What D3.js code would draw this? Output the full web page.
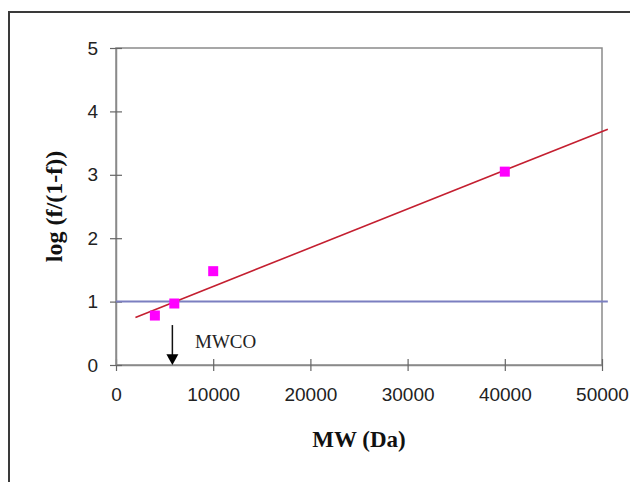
<!DOCTYPE html>
<html lang="en">
<head>
	<meta charset="UTF-8">
	<title>MWCO</title>
	<script src="https://cdn.jsdelivr.net/npm/d3@7"></script>
	<style>
		html,body{margin:0;padding:0;background:#fff;}
		svg{display:block;}
		.tick text{font-family:"Liberation Sans",Arial,sans-serif;font-size:19px;fill:#222;}
		.title{font-family:"Liberation Serif","Times New Roman",serif;font-weight:bold;fill:#111;}
	</style>
</head>
<body>
	<svg id="svg" width="630" height="482"></svg>
	<script>
		// measured points
		var mw = [4000, 6000, 10000, 40000],
			logf = [0.78, 0.97, 1.48, 3.05];
		// trend line ends
		var trendX = [2000, 50600],
			trendY = [0.75, 3.72];
		var cutoffY = 1,
			mwco = 5800;
		var xTicks = [0, 10000, 20000, 30000, 40000, 50000],
			yTicks = [0, 1, 2, 3, 4, 5];

		var svg = d3.select("svg"),
			padL = 116, padR = 602, padT = 48, padB = 365;

		var x = d3.scaleLinear().domain([0, 50000]).range([padL, padR]),
			y = d3.scaleLinear().domain([0, 5]).range([padB, padT]);

		// outer frame, runs off the right and bottom
		svg.append("rect")
			.attr("x", 9).attr("y", 12)
			.attr("width", 640).attr("height", 490)
			.attr("fill", "none").attr("stroke", "#3a3a3a").attr("stroke-width", 2);

		// plot box
		svg.append("rect")
			.attr("x", padL).attr("y", padT)
			.attr("width", padR - padL).attr("height", padB - padT)
			.attr("fill", "none").attr("stroke", "#8a8a8a").attr("stroke-width", 1.5);

		var xAxis = svg.append("g")
			.attr("transform", "translate(0," + padB + ")")
			.call(d3.axisBottom(x).tickValues(xTicks).tickFormat(d3.format("d")).tickSizeInner(6).tickSizeOuter(0).tickPadding(17));
		var yAxis = svg.append("g")
			.attr("transform", "translate(" + padL + ",0)")
			.call(d3.axisLeft(y).tickValues(yTicks).tickFormat(d3.format("d")).tickSizeInner(6).tickSizeOuter(0).tickPadding(12));

		[xAxis, yAxis].forEach(function(a){
			a.select(".domain").attr("stroke", "#8a8a8a").attr("stroke-width", 1.5);
			a.selectAll(".tick line").attr("stroke", "#666").attr("stroke-width", 1.2);
		});
		// ticks cross the axis
		xAxis.selectAll(".tick line").attr("y1", -6);
		yAxis.selectAll(".tick line").attr("x1", 6);

		// cutoff line
		svg.append("line")
			.attr("x1", x(0)).attr("x2", x(50600))
			.attr("y1", y(cutoffY)).attr("y2", y(cutoffY))
			.attr("stroke", "#7b7fc0").attr("stroke-width", 2);

		// trend line
		svg.append("line")
			.attr("x1", x(trendX[0])).attr("y1", y(trendY[0]))
			.attr("x2", x(trendX[1])).attr("y2", y(trendY[1]))
			.attr("stroke", "#c41f30").attr("stroke-width", 1.6);

		// points
		svg.selectAll("rect.pt")
			.data(d3.range(mw.length))
			.enter().append("rect")
			.attr("class", "pt")
			.attr("x", function(i){ return x(mw[i]) - 5; })
			.attr("y", function(i){ return y(logf[i]) - 5; })
			.attr("width", 10).attr("height", 10)
			.attr("fill", "#ff00ff");

		// MWCO arrow
		svg.append("line")
			.attr("x1", x(mwco)).attr("x2", x(mwco))
			.attr("y1", y(0.63)).attr("y2", y(0.12))
			.attr("stroke", "#111").attr("stroke-width", 1.5);
		svg.append("path")
			.attr("d", "M" + (x(mwco) - 6) + "," + y(0.17) + "L" + (x(mwco) + 6) + "," + y(0.17) + "L" + x(mwco) + "," + y(0) + "Z")
			.attr("fill", "#000");

		svg.append("text")
			.attr("x", 195).attr("y", 348)
			.style("font-family", '"Liberation Serif","Times New Roman",serif')
			.style("font-size", "19px").attr("fill", "#222")
			.text("MWCO");

		svg.append("text")
			.attr("class", "title")
			.attr("x", (padL + padR) / 2).attr("y", 447)
			.attr("text-anchor", "middle")
			.style("font-size", "23px")
			.text("MW (Da)");

		svg.append("text")
			.attr("class", "title")
			.attr("transform", "translate(62," + ((padT + padB) / 2) + ") rotate(-90)")
			.attr("text-anchor", "middle")
			.style("font-size", "24px")
			.text("log (f/(1-f))");
	</script>
</body>
</html>
